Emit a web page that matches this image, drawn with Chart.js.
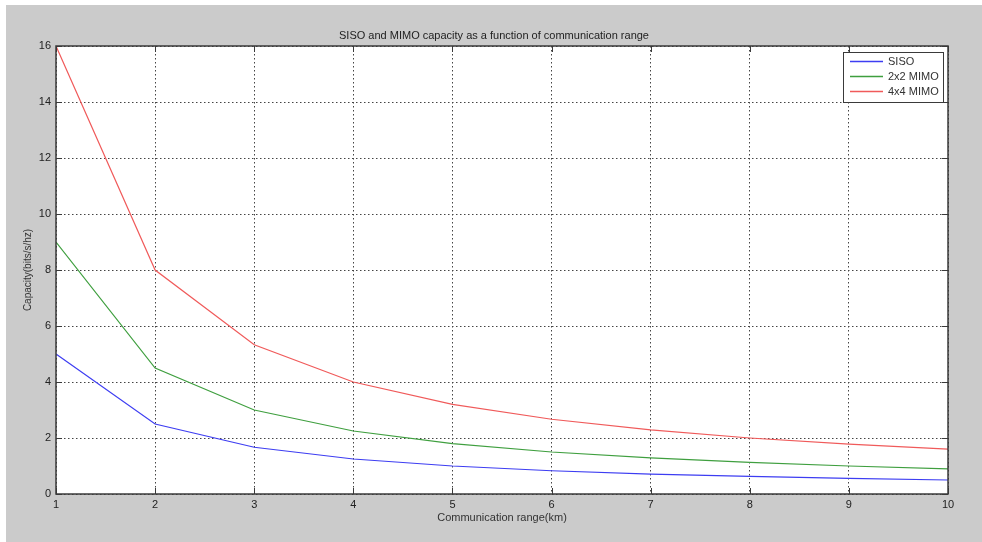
<!DOCTYPE html>
<html>
<head>
<meta charset="utf-8">
<script src="https://cdn.jsdelivr.net/npm/chart.js@4/dist/chart.umd.min.js"></script>
<style>
  html, body { margin: 0; padding: 0; background: #fff; }
  #wrap { width: 982px; height: 542px; }
</style>
</head>
<body>
<div id="wrap"><canvas id="cap"></canvas></div>
<script>
// communication range (km)
const ranges = [1, 2, 3, 4, 5, 6, 7, 8, 9, 10];
// capacity in bits/s/hz
const siso   = [5, 2.5, 1.67, 1.25, 1.0, 0.83, 0.71, 0.63, 0.56, 0.5];
const mimo2  = [9, 4.5, 3.0, 2.25, 1.8, 1.5, 1.29, 1.13, 1.0, 0.9];
const mimo4  = [16, 8, 5.33, 4.0, 3.2, 2.67, 2.29, 2.0, 1.78, 1.6];
const yTicks = [0, 2, 4, 6, 8, 10, 12, 14, 16];

const FONT = 'Liberation Sans, Arial, sans-serif';

// matlab-ish figure: gray backdrop, boxed axes, inward ticks, title, legend
const figure = {
  id: 'figure',
  beforeDraw(chart) {
    const { ctx, chartArea: a } = chart;
    ctx.save();
    ctx.fillStyle = '#cbcbcb';
    ctx.fillRect(6, 5, chart.width - 6, chart.height - 5);
    ctx.fillStyle = '#fff';
    ctx.fillRect(a.left, a.top, a.right - a.left, a.bottom - a.top);
    ctx.restore();
  },
  afterDraw(chart) {
    const { ctx, chartArea: a, scales } = chart;
    ctx.save();
    ctx.strokeStyle = '#3a3a3a';
    ctx.lineWidth = 1;
    ctx.setLineDash([]);
    ctx.beginPath();
    for (const v of ranges) {
      const x = Math.round(scales.x.getPixelForValue(v)) + 0.5;
      ctx.moveTo(x, a.bottom); ctx.lineTo(x, a.bottom - 6);
      ctx.moveTo(x, a.top); ctx.lineTo(x, a.top + 6);
    }
    for (const v of yTicks) {
      const y = Math.round(scales.y.getPixelForValue(v)) + 0.5;
      ctx.moveTo(a.left, y); ctx.lineTo(a.left + 6, y);
      ctx.moveTo(a.right, y); ctx.lineTo(a.right - 6, y);
    }
    ctx.stroke();
    ctx.lineWidth = 1.5;
    ctx.strokeRect(a.left, a.top, a.right - a.left, a.bottom - a.top);

    // title
    ctx.fillStyle = '#222';
    ctx.font = '11px ' + FONT;
    ctx.textAlign = 'center';
    ctx.textBaseline = 'middle';
    ctx.fillText('SISO and MIMO capacity as a function of communication range', 494, 36);

    // legend box in the top right corner
    const bx = 843, by = 52, bw = 100, bh = 50;
    ctx.fillStyle = '#fff';
    ctx.fillRect(bx, by, bw, bh);
    ctx.lineWidth = 1;
    ctx.strokeStyle = '#3a3a3a';
    ctx.strokeRect(bx + 0.5, by + 0.5, bw, bh);
    ctx.textAlign = 'left';
    ctx.lineWidth = 1.5;
    chart.data.datasets.forEach((ds, i) => {
      const y = by + 9.5 + i * 15;
      ctx.strokeStyle = ds.borderColor;
      ctx.beginPath();
      ctx.moveTo(bx + 7, y); ctx.lineTo(bx + 40, y);
      ctx.stroke();
      ctx.fillStyle = '#333';
      ctx.fillText(ds.label, bx + 45, y);
    });
    ctx.restore();
  }
};

const grid = {
  color: '#444',
  lineWidth: 1,
  drawTicks: false,
};
const border = { display: false, dash: [1.5, 2.5] };

new Chart(document.getElementById('cap'), {
  type: 'line',
  data: {
    labels: ranges,
    datasets: [
      { label: 'SISO', data: siso, borderColor: '#3d3df2' },
      { label: '2x2 MIMO', data: mimo2, borderColor: '#3f9f3f' },
      { label: '4x4 MIMO', data: mimo4, borderColor: '#f05a5a' },
    ].map(d => ({ ...d, borderWidth: 1.2, pointRadius: 0, tension: 0, fill: false })),
  },
  options: {
    responsive: true,
    maintainAspectRatio: false,
    animation: false,
    layout: { padding: { left: 18, top: 46, right: 34, bottom: 0 } },
    plugins: { legend: { display: false }, title: { display: false }, tooltip: { enabled: false } },
    scales: {
      x: {
        type: 'linear',
        min: 1, max: 10,
        afterBuildTicks: s => { s.ticks = ranges.map(v => ({ value: v })); },
        afterFit: s => { s.height = 48; },
        grid,
        border,
        ticks: { color: '#222', font: { family: FONT, size: 11 }, padding: 4, maxRotation: 0 },
        title: { display: true, text: 'Communication range(km)', color: '#333', font: { family: FONT, size: 11 }, padding: { top: 0, bottom: 17 } },
      },
      y: {
        min: 0, max: 16,
        afterBuildTicks: s => { s.ticks = yTicks.map(v => ({ value: v })); },
        afterFit: s => { s.width = 38; },
        grid,
        border,
        ticks: { color: '#222', font: { family: FONT, size: 11 }, padding: 5 },
        title: { display: true, text: 'Capacity(bits/s/hz)', color: '#333', font: { family: FONT, size: 10 }, padding: { top: 4, bottom: 0 } },
      },
    },
  },
  plugins: [figure],
});
</script>
</body>
</html>
